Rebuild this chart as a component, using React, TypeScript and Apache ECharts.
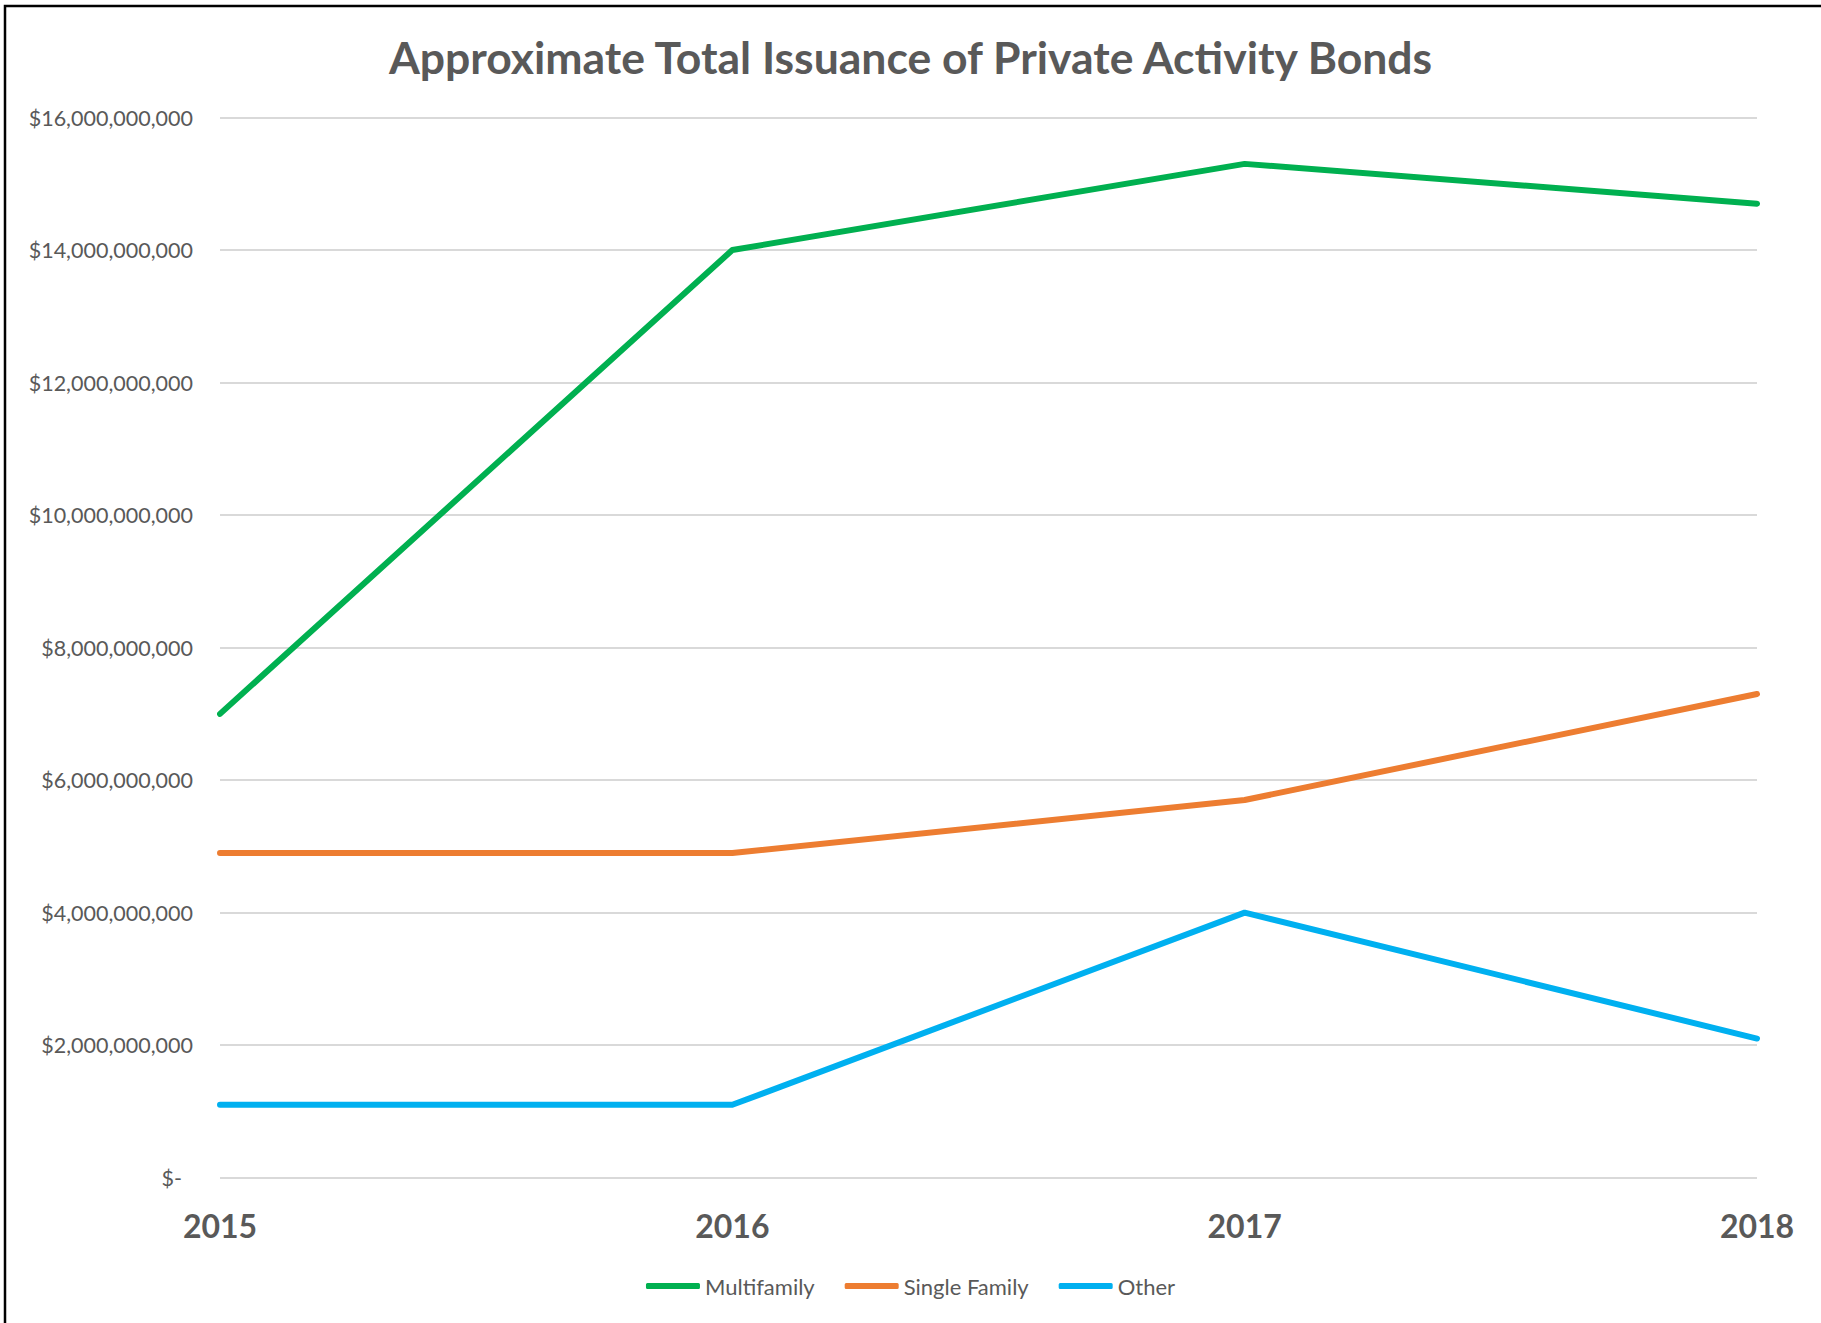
import React, { useEffect, useRef } from "react";
import * as echarts from "echarts";

const years = ["2015", "2016", "2017", "2018"];
const multifamily = [7.0e9, 14.0e9, 15.3e9, 14.7e9];
const singleFamily = [4.9e9, 4.9e9, 5.7e9, 7.3e9];
const other = [1.1e9, 1.1e9, 4.0e9, 2.1e9];
const seriesNames = ["Multifamily", "Single Family", "Other"];
const colors = ["#00B050", "#ED7D31", "#00B0F0"];
const title = "Approximate Total Issuance of Private Activity Bonds";

function fmt(v: number): string {
  if (v === 0) return "{z|$-}";
  return "$" + Math.round(v).toLocaleString("en-US");
}

export default function App() {
  const ref = useRef<HTMLDivElement>(null);
  useEffect(() => {
    if (!ref.current) return;
    const chart = echarts.init(ref.current, null, { renderer: "svg" });
    const font = "Lato, 'Open Sans', sans-serif";
    const data = [multifamily, singleFamily, other];
    chart.setOption({
      animation: false,
      backgroundColor: "#fff",
      textStyle: { fontFamily: font },
      title: {
        text: title,
        left: "center",
        top: 29,
        textStyle: { fontFamily: font, fontWeight: "bold", fontSize: 44.5, color: "#595959" },
      },
      graphic: [
        {
          type: "polyline",
          shape: { points: [[5, 1400], [5, 6], [1900, 6]] },
          style: { stroke: "#000", lineWidth: 2.5, fill: null },
          silent: true,
        },
      ],
      grid: { left: 220, right: 64, top: 117.5, bottom: 145.3, containLabel: false },
      legend: {
        bottom: 21,
        left: "center",
        icon: "roundRect",
        itemWidth: 54,
        itemHeight: 6,
        itemGap: 30,
        textStyle: { fontFamily: font, fontSize: 22, color: "#595959" },
        data: seriesNames,
      },
      xAxis: {
        type: "category",
        data: years,
        boundaryGap: false,
        axisLine: { show: false },
        axisTick: { show: false },
        axisLabel: {
          margin: 32,
          fontFamily: font,
          fontWeight: "bold",
          fontSize: 32,
          color: "#595959",
        },
      },
      yAxis: {
        type: "value",
        min: 0,
        max: 16e9,
        interval: 2e9,
        axisLine: { show: false },
        axisTick: { show: false },
        splitLine: { lineStyle: { color: "#D9D9D9", width: 2 } },
        axisLabel: {
          margin: 27,
          fontFamily: font,
          fontSize: 21.5,
          color: "#595959",
          formatter: fmt,
          rich: { z: { fontFamily: font, fontSize: 21.5, color: "#595959", padding: [0, 11, 0, 0] } },
        },
      },
      series: seriesNames.map((name, i) => ({
        name,
        type: "line",
        data: data[i],
        symbol: "none",
        color: colors[i],
        lineStyle: { color: colors[i], width: 6, cap: "round", join: "round" },
      })),
    });
    return () => chart.dispose();
  }, []);
  return (
    <div
      ref={ref}
      style={{ position: "absolute", left: 0, top: 0, width: 1821, height: 1323 }}
    />
  );
}
